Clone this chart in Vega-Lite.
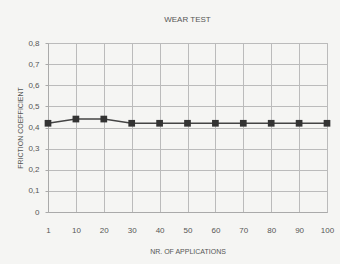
{
  "$schema": "https://vega.github.io/schema/vega-lite/v6.json",
  "width": 279,
  "height": 169,
  "autosize": {"type": "none"},
  "padding": {"left": 48, "top": 43, "right": 13, "bottom": 52},
  "background": "#f5f5f3",
  "title": {"text": "WEAR TEST", "font": "Liberation Sans", "fontSize": 8, "fontWeight": "normal", "color": "#555", "offset": 15, "anchor": "middle"},
  "data": {"values": [
    {"n": "1", "f": 0.42},
    {"n": "10", "f": 0.44},
    {"n": "20", "f": 0.44},
    {"n": "30", "f": 0.42},
    {"n": "40", "f": 0.42},
    {"n": "50", "f": 0.42},
    {"n": "60", "f": 0.42},
    {"n": "70", "f": 0.42},
    {"n": "80", "f": 0.42},
    {"n": "90", "f": 0.42},
    {"n": "100", "f": 0.42}
  ]},
  "config": {
    "view": {"stroke": "#bbb"},
    "axis": {"labelFont": "Liberation Sans", "titleFont": "Liberation Sans", "labelFontSize": 8, "titleFontSize": 7, "labelColor": "#555", "titleColor": "#555", "titleFontWeight": "normal", "gridColor": "#bbb", "domainColor": "#aaa", "tickColor": "#aaa"}
  },
  "encoding": {
    "x": {"field": "n", "type": "ordinal", "sort": null, "scale": {"type": "point", "padding": 0},
      "axis": {"title": "NR. OF APPLICATIONS", "labelAngle": 0, "grid": true, "ticks": false, "labelPadding": 14, "titlePadding": 13}},
    "y": {"field": "f", "type": "quantitative", "scale": {"domain": [0, 0.8], "nice": false},
      "axis": {"title": "FRICTION COEFFICIENT", "values": [0, 0.1, 0.2, 0.3, 0.4, 0.5, 0.6, 0.7, 0.8], "labelExpr": "datum.value == 0 ? '0' : replace(format(datum.value, '.1f'), '.', ',')", "tickSize": 3, "labelPadding": 6, "titlePadding": 4}}
  },
  "layer": [
    {"mark": {"type": "line", "color": "#444", "strokeWidth": 1.5}},
    {"mark": {"type": "point", "shape": "square", "filled": true, "color": "#333", "size": 45, "opacity": 1}}
  ]
}
